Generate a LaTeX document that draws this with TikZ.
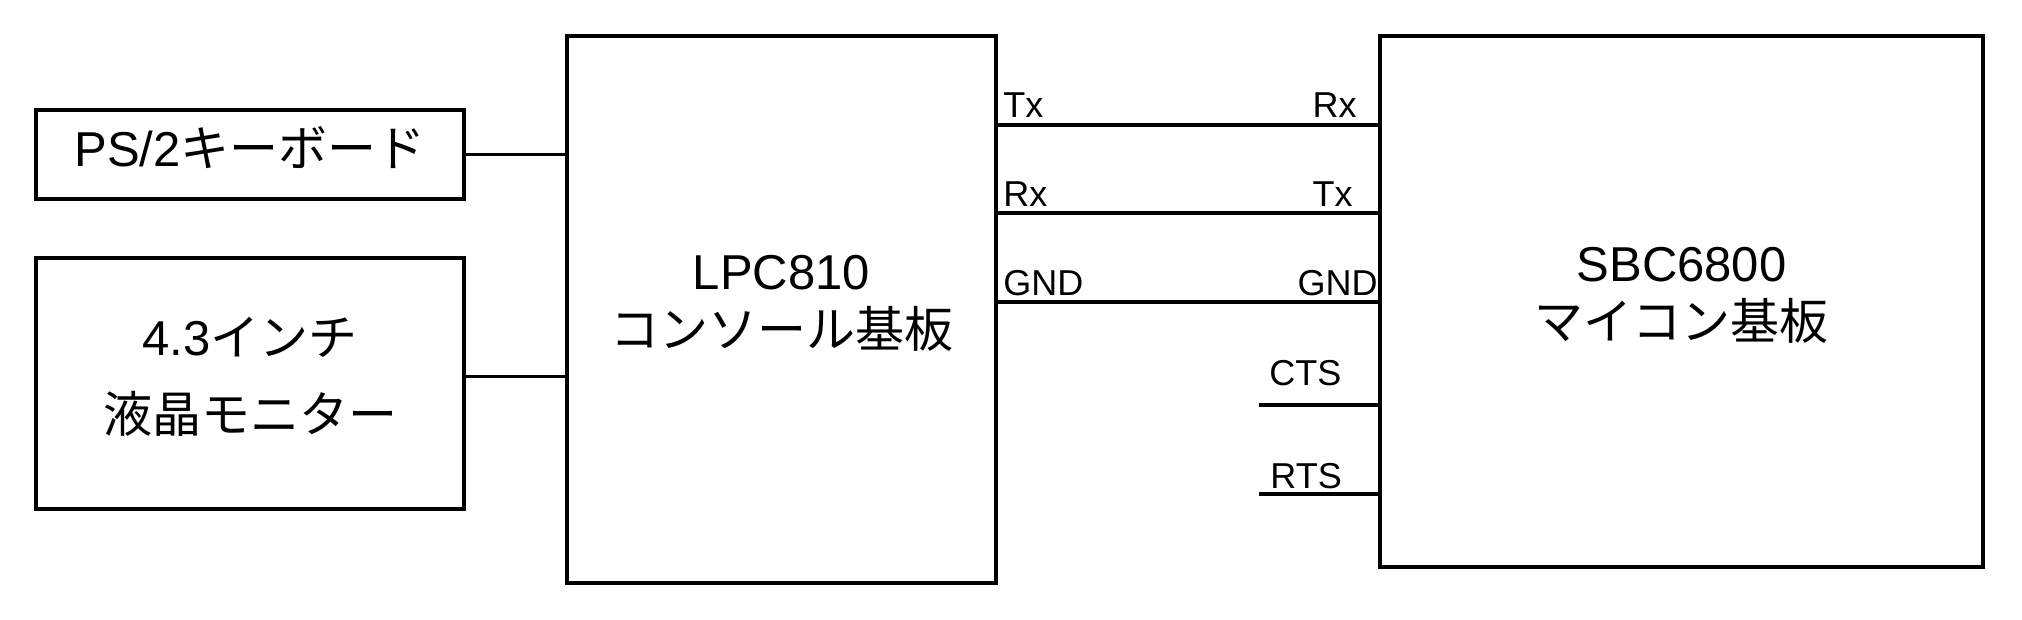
\documentclass[tikz,border=0pt]{standalone}
\usepackage{fontspec}
\setmainfont{Liberation Sans}
\newfontfamily\jp{Noto Sans CJK JP}
\begin{document}
\begin{tikzpicture}[x=0.5pt,y=-0.5pt,
  box/.style={draw, line width=1.8pt, inner sep=0pt, rectangle},
  wire/.style={line width=1.8pt},
  bigtext/.style={inner sep=0pt, align=center, font=\fontsize{24.5}{29}\selectfont},
  pin/.style={inner sep=0pt, font=\fontsize{18}{22}\selectfont}]
\useasboundingbox (0,0) rectangle (2022,620);
% boxes
\node[box, minimum width=214pt, minimum height=44.5pt] (ps2) at (250,154.5) {};
\node[box, minimum width=214pt, minimum height=125.5pt] (lcd) at (250,383.5) {};
\node[box, minimum width=214.5pt, minimum height=273.5pt] (lpc) at (781.5,309.5) {};
\node[box, minimum width=301.5pt, minimum height=265.5pt] (sbc) at (1681.5,301.5) {};
% box texts
\node[bigtext] (ps2t) at (250,148) {PS/2{\jp キーボード}};
\node[bigtext, font=\fontsize{24.5}{38.5}\selectfont] (lcdt) at (250,377) {4.3{\jp インチ}\\{\jp 液晶モニター}};
\node[bigtext] (lpct) at (781.5,303.5) {LPC810\\{\jp コンソール基板}};
\node[bigtext] (sbct) at (1681.5,295) {SBC6800\\{\jp マイコン基板}};
% left connectors
\draw[wire] (ps2.east) -- (ps2.east -| lpc.west);
\coordinate (lcdout) at ([yshift=3.5pt]lcd.east);
\draw[wire] (lcdout) -- (lcdout -| lpc.west);
% serial lines
\coordinate (txl) at (lpc.east |- 0,125);
\coordinate (rxl) at (lpc.east |- 0,213);
\coordinate (gndl) at (lpc.east |- 0,302);
\draw[wire] (txl) -- (txl -| sbc.west);
\draw[wire] (rxl) -- (rxl -| sbc.west);
\draw[wire] (gndl) -- (gndl -| sbc.west);
\coordinate (cts) at (1259,405);
\coordinate (rts) at (1259,494);
\draw[wire] (cts) -- (cts -| sbc.west);
\draw[wire] (rts) -- (rts -| sbc.west);
% pin labels
\node[pin, anchor=base west] (l1) at (1003,118) {Tx};
\node[pin, anchor=base west] (l2) at (1003,207) {Rx};
\node[pin, anchor=base west] (l3) at (1003,295.5) {GND};
\node[pin, anchor=base east] (r1) at (1357,118) {Rx};
\node[pin, anchor=base east] (r2) at (1353,207) {Tx};
\node[pin, anchor=base east] (r3) at (1378,295.5) {GND};
\node[pin, anchor=base west] (r4) at (1269,385) {CTS};
\node[pin, anchor=base west] (r5) at (1270,488) {RTS};
\end{tikzpicture}
\end{document}
